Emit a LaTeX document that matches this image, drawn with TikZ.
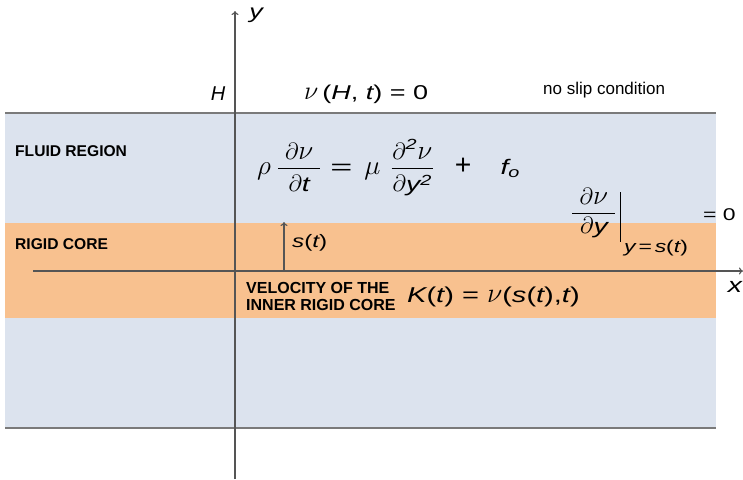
\RequirePackage{fix-cm}
\documentclass[tikz,border=0pt]{standalone}
\usepackage{amsmath}
\usepackage{graphicx}
\usepackage{fontspec}
\setmainfont{Liberation Sans}
\newfontfamily\wf[FakeStretch=1.35]{Liberation Sans}
\usetikzlibrary{arrows.meta}
\definecolor{bluef}{HTML}{DCE3EE}
\definecolor{orangef}{HTML}{F8C18F}
\definecolor{bndc}{HTML}{7A7A7A}
\definecolor{axc}{HTML}{555555}
\newcommand\vi[1]{\text{\wf\itshape #1}}
\newcommand\vu[1]{\text{\wf #1}}
\newcommand\gk[1]{\text{\scalebox{1.3}{$#1$}}}
\newcommand\pd{\text{\scalebox{1.12}{$\partial$}}}
\tikzset{
  bnd/.style={draw=bndc, line width=2pt},
  axisline/.style={draw=axc, line width=1.1pt, -{To[length=4pt,width=7pt]}},
  lbl/.style={inner sep=0pt, font=\fontsize{15.6}{18}\selectfont\bfseries},
  txt/.style={inner sep=0pt},
}
\begin{document}
\begin{tikzpicture}[x=1pt,y=-1pt]
\useasboundingbox (0,0) rectangle (743,479);
\fill[bluef] (5,113) rectangle (716,428);
\fill[orangef] (5,223) rectangle (716,318);
\draw[bnd] (5,113) -- (716,113);
\draw[bnd] (5,428) -- (716,428);
% axes
\coordinate (yb) at (235,479);
\coordinate (yt) at (235,11);
\draw[axisline] (yb) -- (yt);
\coordinate (xl) at (33,271);
\coordinate (xr) at (743,271);
\draw[axisline] (xl) -- (xr);
\coordinate (s0) at (284,271);
\coordinate (s1) at (284,222);
\draw[axisline] (s0) -- (s1);
% labels
\node[txt, font=\fontsize{20}{22}\selectfont] (ylab) at (256,15) {\vi{y}};
\node[txt, font=\fontsize{20}{22}\selectfont] (Hlab) at (218,94) {\textit{H}};
\node[txt, font=\fontsize{20}{22}\selectfont, anchor=west] (bc) at (304,94)
  {$\gk{\nu}$\hspace{4pt}\vu{(}\vi{H}\vu{, }\vi{t}\vu{) = 0}};
\node[txt, font=\fontsize{17}{20}\selectfont, anchor=west] (nslip) at (543,90) {no slip condition};
\node[lbl, anchor=west] (fluid) at (15,151) {FLUID REGION};
\node[lbl, anchor=west] (rigid) at (15,244) {RIGID CORE};
\node[txt, font=\fontsize{21}{24}\selectfont, anchor=base west] (pde) at (257,174)
  {$\gk{\rho}$\hspace{6pt}$\dfrac{\makebox[42pt]{$\pd\gk{\nu}$}\rule[-4pt]{0pt}{4pt}}{\rule{0pt}{20pt}\pd\vi{t}}$\hspace{9pt}\scalebox{1.8}[1]{=}\hspace{12pt}$\gk{\mu}$\hspace{10pt}$\dfrac{\makebox[41pt]{$\pd^{\vi{2}}\gk{\nu}$}\rule[-4pt]{0pt}{4pt}}{\rule{0pt}{20pt}\pd\vi{y}^{\vi{2}}}$\hspace{21pt}\scalebox{1.35}{+}\hspace{29pt}\vi{f}$_{\vi{o}}$};
\node[txt, font=\fontsize{18}{20}\selectfont, anchor=west] (st) at (292,243) {\vi{s}\vu{(}\vi{t}\vu{)}};
\node[txt, anchor=west, align=left, font=\fontsize{16}{17}\selectfont\bfseries] (vel) at (246,296) {VELOCITY OF THE\\INNER RIGID CORE};
\node[txt, font=\fontsize{21.5}{24}\selectfont, anchor=west] (K) at (407,297)
  {\vi{K}\vu{(}\vi{t}\vu{) = }$\gk{\nu}$\vu{(}\vi{s}\vu{(}\vi{t}\vu{),}\vi{t}\vu{)}};
\node[txt, font=\fontsize{21}{24}\selectfont] (xlab) at (735,287) {\vi{x}};
\node[txt, font=\fontsize{21}{24}\selectfont, anchor=base west] (dfrac) at (571,219)
  {$\dfrac{\makebox[43pt]{$\pd\gk{\nu}$}\rule[-3pt]{0pt}{3pt}}{\rule{0pt}{17pt}\pd\vi{y}}$};
\coordinate (bar1) at (620,192);
\coordinate (bar2) at (620,242);
\draw[line width=1pt] (bar1) -- (bar2);
\node[txt, font=\fontsize{17}{20}\selectfont, anchor=west] (ysub) at (624,248)
  {\vi{y}\vu{\,=\,}\vi{s}\vu{(}\vi{t}\vu{)}};
\node[txt, font=\fontsize{17}{20}\selectfont, anchor=west] (eq0) at (703,215) {\vu{= 0}};
\end{tikzpicture}
\end{document}
